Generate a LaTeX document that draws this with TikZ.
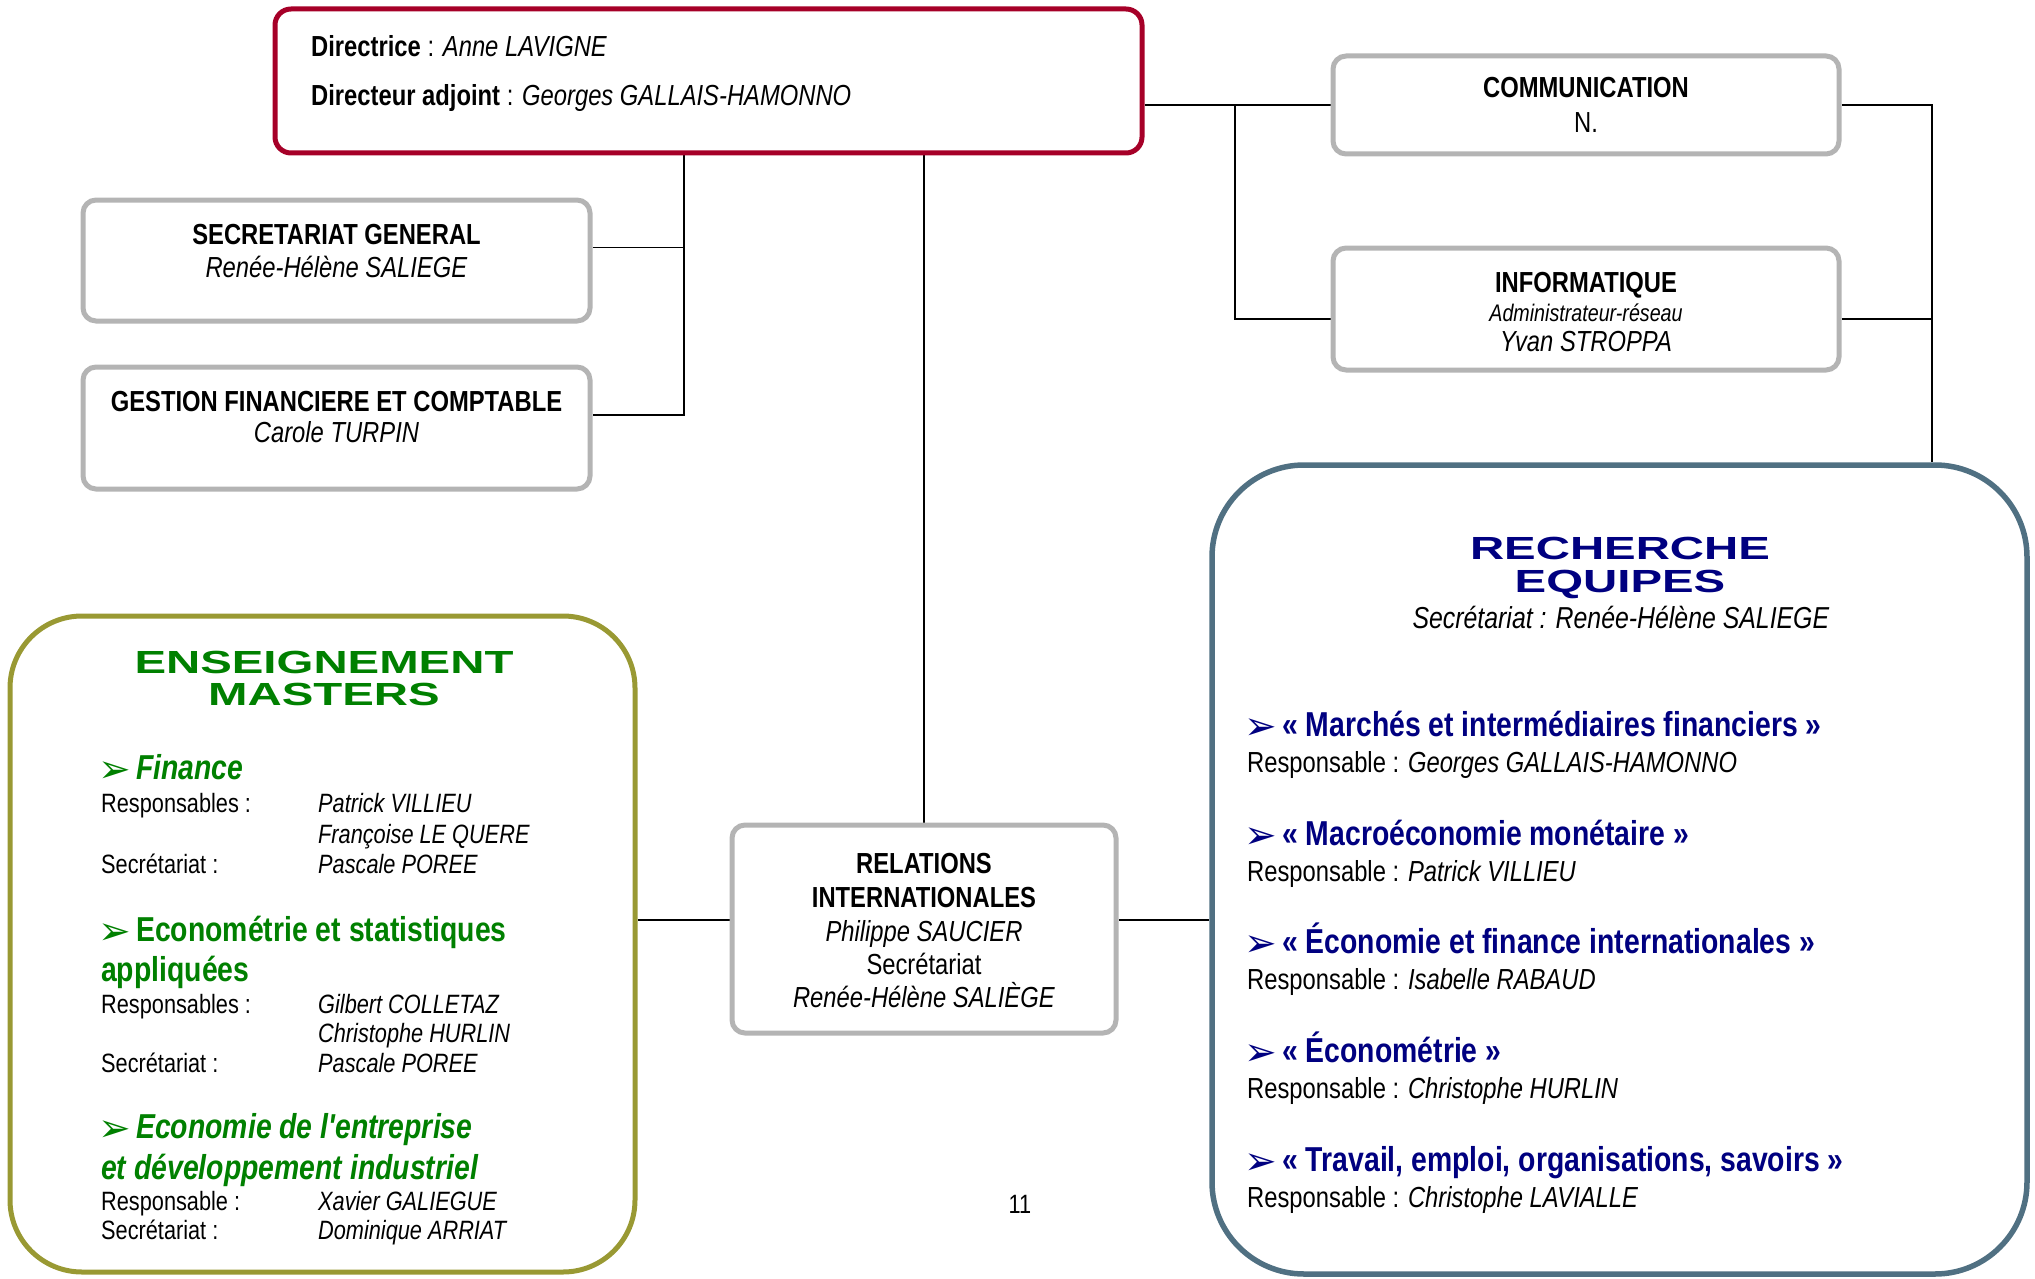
\documentclass[tikz,border=0pt]{standalone}
\usepackage{fontspec}
\setmainfont{Liberation Sans}[FakeStretch=0.82]
\newfontfamily\widefont{Liberation Sans}[FakeStretch=1.48]
\newfontfamily\plainfont{Liberation Sans}[FakeStretch=0.82]
\newfontfamily\symfont{DejaVu Sans}
\usetikzlibrary{backgrounds}
\definecolor{dircol}{RGB}{166,0,40}
\definecolor{boxgray}{RGB}{180,180,180}
\definecolor{olivec}{RGB}{153,153,51}
\definecolor{steelc}{RGB}{80,112,130}
\definecolor{greenc}{RGB}{0,128,0}
\definecolor{navyc}{RGB}{0,0,128}
\newcommand\fnorm{\fontsize{29}{34}\selectfont}
\newcommand\fsmalltxt{\fontsize{24}{28}\selectfont}
\newcommand\fleft{\fontsize{26.5}{31}\selectfont}
\newcommand\fhead{\fontsize{34.6}{40}\selectfont}
\newcommand\ftitle{\fontsize{32}{36}\selectfont}
\newcommand\fsym{\fontsize{39}{39}\selectfont}
\newcommand\sqapos{{\plainfont '}}
\begin{document}
\begin{tikzpicture}[x=1pt,y=-1pt,
  box/.style={draw, line width=5pt, inner sep=0pt, fill=white},
  graybox/.style={box, draw=boxgray, rounded corners=13pt},
  conn/.style={line width=1.6pt, black},
  tx/.style={anchor=base west, inner sep=0pt, font=\fnorm},
  txc/.style={anchor=base, inner sep=0pt, font=\fnorm},
  lt/.style={anchor=base west, inner sep=0pt, font=\fleft},
  hd/.style={anchor=base west, inner sep=0pt, font=\fhead\bfseries},
  sym/.style={anchor=base west, inner sep=0pt, font=\fsym\symfont},
  ttl/.style={anchor=base, inner sep=0pt, font=\ftitle\widefont\bfseries}
]
\useasboundingbox (0,0) rectangle (2035,1279);

% ---- boxes ----
\node[box, draw=dircol, rounded corners=16pt, minimum width=867pt, minimum height=144pt] (dir) at (708.5,81) {};
\node[graybox, minimum width=506pt, minimum height=98pt] (comm) at (1586,105) {};
\node[graybox, minimum width=506pt, minimum height=122pt] (info) at (1586,309) {};
\node[graybox, minimum width=507pt, minimum height=121pt] (sg) at (336.5,260.5) {};
\node[graybox, minimum width=507pt, minimum height=122pt] (gfc) at (336.5,428) {};
\node[graybox, minimum width=384pt, minimum height=208pt] (rel) at (924,929) {};
\node[box, draw=olivec, rounded corners=72pt, minimum width=625pt, minimum height=656pt] (ens) at (322.5,944) {};
\node[box, draw=steelc, line width=5.5pt, rounded corners=92pt, minimum width=815pt, minimum height=809pt] (rec) at (1619.5,869.5) {};

% ---- connectors ----
\coordinate (jl) at (684,0);
\coordinate (jm) at (924,0);
\coordinate (jr) at (1235,0);
\coordinate (jfr) at (1932,0);
\coordinate (sgc) at ([yshift=13pt]sg.east);
\coordinate (gfcc) at ([yshift=13pt]gfc.east);
\coordinate (infc) at ([yshift=-10pt]info.west);
\coordinate (infr) at ([yshift=-10pt]info.east);
\coordinate (rl) at ([yshift=9pt]rel.west);
\coordinate (rr) at ([yshift=9pt]rel.east);
\begin{scope}[on background layer]
\draw[conn] (dir.south -| jl) -- (gfcc -| jl) -- (gfcc);
\draw[conn] (sgc) -- (sgc -| jl);
\draw[conn] (dir.south -| jm) -- (rel.north);
\draw[conn] (dir.east |- comm.west) -- (comm.west);
\draw[conn] (comm.west -| jr) |- (infc);
\draw[conn] (comm.east) -| (rec.north -| jfr);
\draw[conn] (infr) -- (infr -| jfr);
\draw[conn] (rl -| ens.east) -- (rl);
\draw[conn] (rr) -- (rr -| rec.west);
\end{scope}

% ---- director ----
\node[tx] (d1) at (311,57) {\textbf{Directrice} : \textit{Anne LAVIGNE}};
\node[tx] (d2) at (311,106) {\textbf{Directeur adjoint} : \textit{Georges GALLAIS-HAMONNO}};

% ---- communication / informatique ----
\node[txc] (c1) at (1586,98) {\textbf{COMMUNICATION}};
\node[txc] (c2) at (1586,133) {N.};
\node[txc] (i1) at (1586,292) {\textbf{INFORMATIQUE}};
\node[txc, font=\fsmalltxt\itshape] (i2) at (1586,321) {Administrateur-réseau};
\node[txc] (i3) at (1586,351) {\textit{Yvan STROPPA}};

% ---- secretariat / gestion ----
\node[txc] (s1) at (336.5,244) {\textbf{SECRETARIAT GENERAL}};
\node[txc] (s2) at (336.5,277) {\textit{Renée-Hélène SALIEGE}};
\node[txc] (g1) at (336.5,411) {\textbf{GESTION FINANCIERE ET COMPTABLE}};
\node[txc] (g2) at (336.5,442) {\textit{Carole TURPIN}};

% ---- relations internationales ----
\node[txc] (r1) at (924,873) {\textbf{RELATIONS}};
\node[txc] (r2) at (924,907) {\textbf{INTERNATIONALES}};
\node[txc] (r3) at (924,941) {\textit{Philippe SAUCIER}};
\node[txc] (r4) at (924,974) {Secrétariat};
\node[txc] (r5) at (924,1007) {\textit{Renée-Hélène SALIÈGE}};

% ---- enseignement ----
\node[ttl, text=greenc] (e1) at (324,673.5) {ENSEIGNEMENT};
\node[ttl, text=greenc] (e2) at (324,705.5) {MASTERS};

\node[sym, text=greenc] (ea1) at (98,782) {➢};
\node[hd, text=greenc, font=\fhead\bfseries\itshape] (eh1) at (136,779) {Finance};
\node[lt] (el1) at (101,812) {Responsables :};
\node[lt] (en1) at (318,812) {\textit{Patrick VILLIEU}};
\node[lt] (en2) at (318,843) {\textit{Françoise LE QUERE}};
\node[lt] (el2) at (101,873) {Secrétariat :};
\node[lt] (en3) at (318,873) {\textit{Pascale POREE}};

\node[sym, text=greenc] (ea2) at (98,944) {➢};
\node[hd, text=greenc] (eh2) at (136,941) {Econométrie et statistiques};
\node[hd, text=greenc] (eh2b) at (101,981) {appliquées};
\node[lt] (el3) at (101,1013) {Responsables :};
\node[lt] (en4) at (318,1013) {\textit{Gilbert COLLETAZ}};
\node[lt] (en5) at (318,1042) {\textit{Christophe HURLIN}};
\node[lt] (el4) at (101,1072) {Secrétariat :};
\node[lt] (en6) at (318,1072) {\textit{Pascale POREE}};

\node[sym, text=greenc] (ea3) at (98,1141) {➢};
\node[hd, text=greenc, font=\fhead\bfseries\itshape] (eh3) at (136,1138) {Economie de l{\plainfont\bfseries\itshape '}entreprise};
\node[hd, text=greenc, font=\fhead\bfseries\itshape] (eh3b) at (101,1179) {et développement industriel};
\node[lt] (el5) at (101,1210) {Responsable :};
\node[lt] (en7) at (318,1210) {\textit{Xavier GALIEGUE}};
\node[lt] (el6) at (101,1239) {Secrétariat :};
\node[lt] (en8) at (318,1239) {\textit{Dominique ARRIAT}};

% ---- recherche ----
\node[ttl, text=navyc] (q1) at (1620,559.5) {RECHERCHE};
\node[ttl, text=navyc] (q2) at (1620,592.5) {EQUIPES};
\node[txc, font=\fontsize{30.3}{34}\selectfont] (q3) at (1621,628) {\textit{Secrétariat : Renée-Hélène SALIEGE}};

\node[sym, text=navyc] (qa1) at (1244,739) {➢};
\node[hd, text=navyc] (qh1) at (1282,736) {« Marchés et intermédiaires financiers »};
\node[tx] (qr1) at (1247,772) {Responsable : \textit{Georges GALLAIS-HAMONNO}};

\node[sym, text=navyc] (qa2) at (1244,848) {➢};
\node[hd, text=navyc] (qh2) at (1282,845) {« Macroéconomie monétaire »};
\node[tx] (qr2) at (1247,881) {Responsable : \textit{Patrick VILLIEU}};

\node[sym, text=navyc] (qa3) at (1244,956) {➢};
\node[hd, text=navyc] (qh3) at (1282,953) {« Économie et finance internationales »};
\node[tx] (qr3) at (1247,989) {Responsable : \textit{Isabelle RABAUD}};

\node[sym, text=navyc] (qa4) at (1244,1065) {➢};
\node[hd, text=navyc] (qh4) at (1282,1062) {« Économétrie »};
\node[tx] (qr4) at (1247,1098) {Responsable : \textit{Christophe HURLIN}};

\node[sym, text=navyc] (qa5) at (1244,1174) {➢};
\node[hd, text=navyc] (qh5) at (1282,1171) {« Travail, emploi, organisations, savoirs »};
\node[tx] (qr5) at (1247,1207) {Responsable : \textit{Christophe LAVIALLE}};

% ---- page number ----
\node[txc, font=\fleft] (pg) at (1020,1213) {11};
\end{tikzpicture}
\end{document}
